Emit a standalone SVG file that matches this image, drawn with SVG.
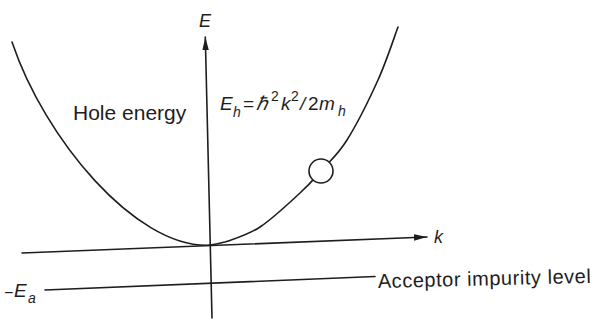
<svg xmlns="http://www.w3.org/2000/svg" width="594" height="320" viewBox="0 0 594 320">
<style>
.ln{fill:none;stroke:#1e1e1e;stroke-width:1.6;stroke-linecap:round}
.t{font-family:"Liberation Sans",Arial,sans-serif;fill:#1e1e1e}
.i{font-style:italic}
</style>
<defs>
<marker id="ah" markerWidth="14" markerHeight="8" refX="13" refY="4" orient="auto" markerUnits="userSpaceOnUse">
<path d="M0,0.8 L13,4 L0,7.2 Z" fill="#1e1e1e"/>
</marker>
</defs>
<rect width="594" height="320" fill="#fff"/>
<g id="axes">
<line id="e-axis" class="ln" x1="212" y1="318" x2="205.3" y2="37" marker-end="url(#ah)"/>
<line id="k-axis" class="ln" x1="22" y1="253" x2="427" y2="237" marker-end="url(#ah)"/>
<line id="acceptor-level" class="ln" x1="45" y1="290" x2="375" y2="276.5"/>
</g>
<g id="curve">
<path class="ln" d="M12,42 C45,140 135,246 207,245.3 C213.3,245.2 217,244 225,242 C233.8,239 247.5,235.2 260,227 C272.5,218.8 289.8,202.3 300,193 C310.2,183.7 313.2,179.8 321,171 C328.8,162.2 337.5,155.2 347,140 C356.5,124.8 369.5,98.8 378,80 C386.5,61.2 394.7,35.8 398,27"/>
</g>
<g id="hole">
<circle cx="321" cy="171" r="12" fill="#fff" stroke="#1e1e1e" stroke-width="1.6"/>
</g>
<g id="labels">
<text class="t i" x="199" y="27" font-size="18">E</text>
<text class="t i" x="434" y="243" font-size="18">k</text>
<text class="t" x="73" y="120" font-size="21">Hole energy</text>
<g id="formula" class="t i">
<text x="220" y="110" font-size="19">E</text>
<text x="233" y="117" font-size="14">h</text>
<text x="243" y="110" font-size="19" font-style="normal">=</text>
<text x="256" y="110" font-size="19">ℏ</text>
<text x="271" y="101" font-size="14" font-style="normal">2</text>
<text x="281" y="110" font-size="19">k</text>
<text x="291" y="101" font-size="14" font-style="normal">2</text>
<text x="300" y="110" font-size="19">/</text>
<text x="308" y="110" font-size="19" font-style="normal">2</text>
<text x="319" y="110" font-size="19">m</text>
<text x="338" y="116" font-size="14">h</text>
</g>
<g id="ea">
<text class="t" x="4" y="298" font-size="16">−</text>
<text class="t i" x="14" y="297" font-size="19">E</text>
<text class="t i" x="28" y="303" font-size="14">a</text>
</g>
<text class="t" x="378" y="288" font-size="20" textLength="213" lengthAdjust="spacing" transform="rotate(-1.4 378 288)">Acceptor impurity level</text>
</g>
</svg>
